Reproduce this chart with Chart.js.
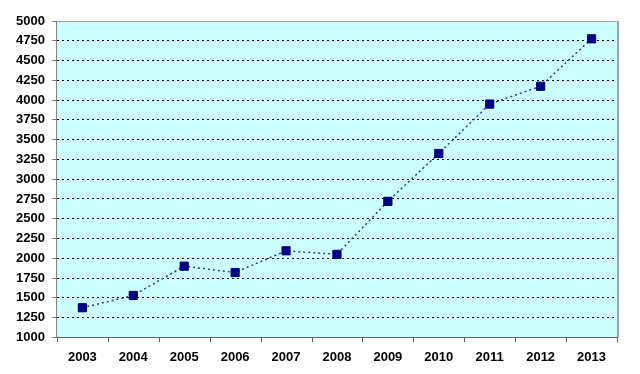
<!DOCTYPE html>
<html>
<head>
<meta charset="utf-8">
<script src="https://cdn.jsdelivr.net/npm/chart.js@4.4.0/dist/chart.umd.min.js"></script>
<style>
  body { margin: 0; background: #fff; }
  #wrap { width: 640px; height: 374px; }
</style>
</head>
<body>
<div id="wrap"><canvas id="chart" width="640" height="374"></canvas></div>
<script>
// Jahre und Werte
const years = ['2003', '2004', '2005', '2006', '2007', '2008', '2009', '2010', '2011', '2012', '2013'];
const values = [1375, 1530, 1900, 1820, 2095, 2050, 2720, 3325, 3950, 4175, 4775];

// Hintergrund der Zeichenfläche, grauer Rahmen und Teilstriche der X-Achse
const plotArea = {
    id: 'plotArea',
    beforeDraw(chart) {
        const { ctx, chartArea: a } = chart;
        ctx.save();
        ctx.fillStyle = '#ccffff';
        ctx.fillRect(a.left, a.top, a.right - a.left, a.bottom - a.top);
        ctx.restore();
    },
    afterDraw(chart) {
        const { ctx, chartArea: a } = chart;
        const xs = chart.scales.x;
        ctx.save();
        ctx.strokeStyle = '#a0a0a0';
        ctx.lineWidth = 1;
        ctx.beginPath();
        ctx.moveTo(a.left, a.top + 0.5);
        ctx.lineTo(a.right, a.top + 0.5);
        ctx.stroke();
        ctx.lineWidth = 2;
        ctx.beginPath();
        ctx.moveTo(a.right + 1, a.top);
        ctx.lineTo(a.right + 1, a.bottom);
        ctx.stroke();
        // Teilstriche zwischen den Kategorien
        ctx.strokeStyle = '#606060';
        ctx.lineWidth = 1;
        ctx.beginPath();
        const n = years.length;
        for (let i = 0; i <= n; i++) {
            const x = Math.round(xs.left + i * xs.width / n) + 0.5;
            ctx.moveTo(x, a.bottom);
            ctx.lineTo(x, a.bottom + 5);
        }
        ctx.stroke();
        ctx.restore();
    }
};

const tickFont = { family: 'Liberation Sans, Arial, sans-serif', size: 13, weight: 'bold' };

new Chart(document.getElementById('chart'), {
    type: 'line',
    data: {
        labels: years,
        datasets: [{
            data: values,
            borderColor: '#3030b0',
            borderWidth: 1.5,
            borderDash: [2, 3],
            tension: 0,
            pointStyle: 'rect',
            pointRadius: 5.8,
            pointBackgroundColor: '#000080',
            pointBorderColor: '#000080',
            pointBorderWidth: 1
        }]
    },
    options: {
        responsive: false,
        animation: false,
        layout: { padding: { top: 21, right: 23, bottom: 5, left: 9 } },
        plugins: {
            legend: { display: false },
            tooltip: { enabled: false }
        },
        scales: {
            x: {
                offset: true,
                grid: { display: false },
                border: { color: '#606060', width: 1 },
                ticks: { font: tickFont, color: '#000', padding: 4, maxRotation: 0 }
            },
            y: {
                min: 1000,
                max: 5000,
                grid: {
                    color: '#000',
                    lineWidth: 1,
                    tickLength: 5,
                    tickColor: '#808080',
                    tickBorderDash: []
                },
                border: { color: '#808080', width: 1, dash: [2, 3] },
                ticks: {
                    stepSize: 250,
                    font: tickFont,
                    color: '#000',
                    padding: 7,
                    callback: v => String(v)
                }
            }
        }
    },
    plugins: [plotArea]
});
</script>
</body>
</html>
